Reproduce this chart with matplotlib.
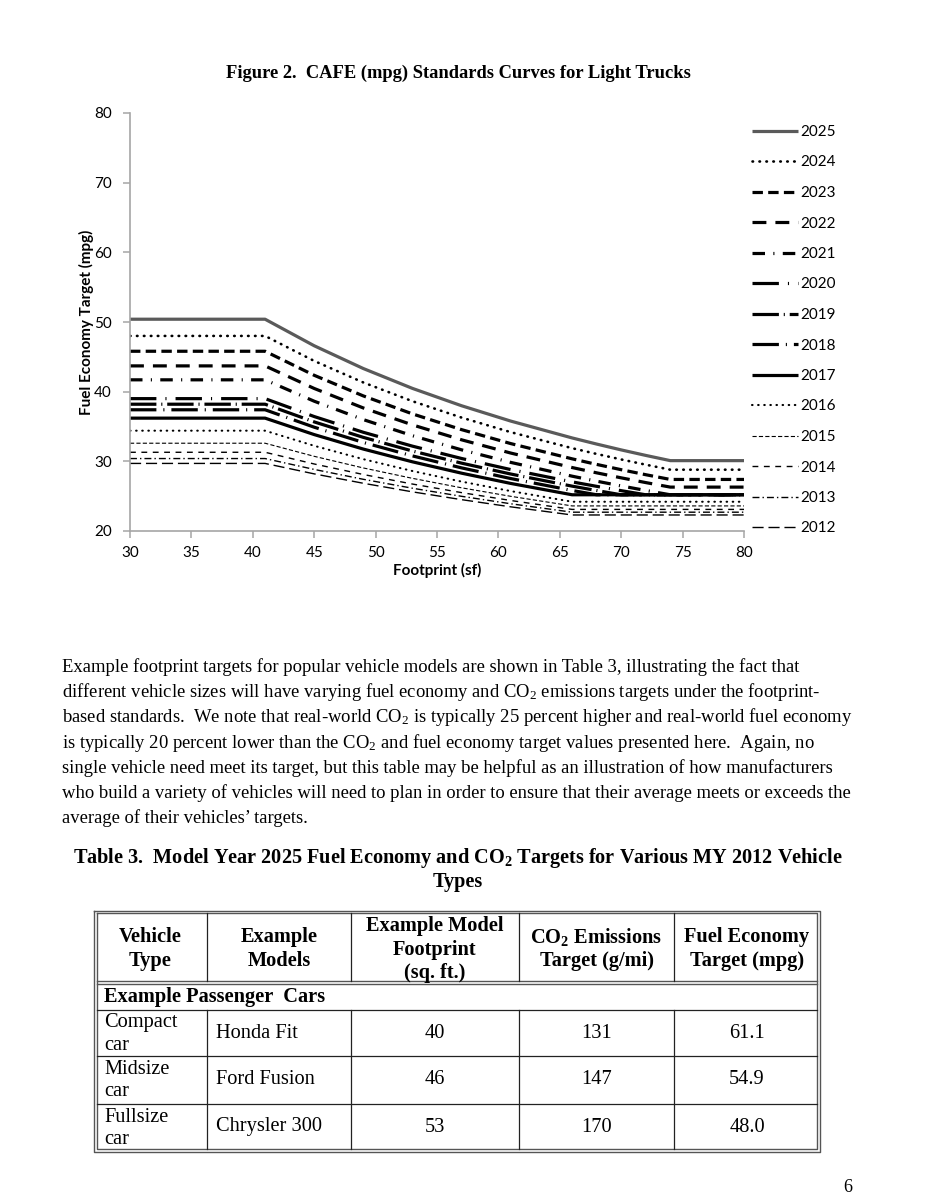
import matplotlib
matplotlib.use("Agg")
import matplotlib.pyplot as plt

plt.rcParams['lines.scale_dashes'] = False
plt.rcParams['mathtext.default'] = 'regular'

# ---------------- data ----------------
footprint = [30, 41, 45, 49, 53, 57, 61, 66, 68, 70, 72, 74, 80]
mpg_2025 = [50.4, 50.4, 46.59, 43.32, 40.47, 37.98, 35.78, 33.36, 32.48, 31.64, 30.85, 30.1, 30.1]
mpg_2024 = [48.0, 48.0, 44.41, 41.32, 38.63, 36.28, 34.19, 31.89, 31.06, 30.27, 29.52, 28.8, 28.8]
mpg_2023 = [45.8, 45.8, 42.35, 39.39, 36.81, 34.55, 32.55, 30.36, 29.56, 28.80, 28.08, 27.4, 27.4]
mpg_2022 = [43.7, 43.7, 40.46, 37.66, 35.23, 33.09, 31.19, 29.11, 28.35, 27.63, 26.95, 26.3, 26.3]
mpg_2021 = [41.7, 41.7, 38.63, 35.99, 33.68, 31.65, 29.85, 27.87, 27.15, 26.47, 25.82, 25.2, 25.2]
mpg_2020 = [39.0, 39.0, 36.43, 34.17, 32.18, 30.41, 28.82, 27.05, 26.41, 25.79, 25.2, 25.2, 25.2]
mpg_2019 = [38.2, 38.2, 35.66, 33.44, 31.48, 29.74, 28.18, 26.44, 25.81, 25.2, 25.2, 25.2, 25.2]
mpg_2018 = [37.4, 37.4, 34.90, 32.71, 30.78, 29.06, 27.53, 25.82, 25.2, 25.2, 25.2, 25.2, 25.2]
mpg_2017 = [36.2, 36.2, 33.84, 31.76, 29.93, 28.30, 26.83, 25.2, 25.2, 25.2, 25.2, 25.2, 25.2]
mpg_2016 = [34.4, 34.4, 32.23, 30.31, 28.61, 27.09, 25.73, 24.2, 24.2, 24.2, 24.2, 24.2, 24.2]
mpg_2015 = [32.6, 32.6, 30.72, 29.05, 27.56, 26.20, 24.98, 23.6, 23.6, 23.6, 23.6, 23.6, 23.6]
mpg_2014 = [31.3, 31.3, 29.62, 28.11, 26.74, 25.51, 24.38, 23.1, 23.1, 23.1, 23.1, 23.1, 23.1]
mpg_2013 = [30.4, 30.4, 28.84, 27.42, 26.14, 24.98, 23.91, 22.7, 22.7, 22.7, 22.7, 22.7, 22.7]
mpg_2012 = [29.7, 29.7, 28.20, 26.85, 25.62, 24.50, 23.47, 22.3, 22.3, 22.3, 22.3, 22.3, 22.3]

years = ["2025", "2024", "2023", "2022", "2021", "2020", "2019", "2018",
         "2017", "2016", "2015", "2014", "2013", "2012"]
series = [mpg_2025, mpg_2024, mpg_2023, mpg_2022, mpg_2021, mpg_2020, mpg_2019,
          mpg_2018, mpg_2017, mpg_2016, mpg_2015, mpg_2014, mpg_2013, mpg_2012]

x_ticks = [30, 35, 40, 45, 50, 55, 60, 65, 70, 75, 80]
y_ticks = [20, 30, 40, 50, 60, 70, 80]

vehicle_types = [["Compact", "car"], ["Midsize", "car"], ["Fullsize", "car"]]
example_models = ["Honda Fit", "Ford Fusion", "Chrysler 300"]
model_footprints = ["40", "46", "53"]
co2_targets = ["131", "147", "170"]
mpg_targets = ["61.1", "54.9", "48.0"]

# ---------------- styles ----------------
styles = [
    dict(color="#5a5a5a", lw=2.3, ls="-"),
    dict(color="black", lw=1.9, ls=(0, (0.4, 4.6)), dash_capstyle="round"),
    dict(color="black", lw=2.3, ls=(0, (7.5, 3.8))),
    dict(color="black", lw=2.3, ls=(0, (10, 6.5))),
    dict(color="black", lw=2.3, ls=(0, (9, 6, 0.8, 6))),
    dict(color="black", lw=2.3, ls=(0, (19, 6.5, 0.8, 6.5))),
    dict(color="black", lw=2.3, ls=(0, (19, 3.5, 0.8, 3.5))),
    dict(color="black", lw=2.3, ls=(0, (19, 5.0, 0.8, 5.0))),
    dict(color="black", lw=2.3, ls="-"),
    dict(color="black", lw=1.5, ls=(0, (0.4, 4.0)), dash_capstyle="round"),
    dict(color="black", lw=0.8, ls=(0, (3.0, 1.6))),
    dict(color="black", lw=1.0, ls=(0, (4.2, 4.0))),
    dict(color="black", lw=1.0, ls=(0, (5.0, 2.2, 1.0, 2.2))),
    dict(color="black", lw=1.0, ls=(0, (8.0, 3.5))),
]

W, H = 925, 1200
fig = plt.figure(figsize=(W / 100, H / 100), dpi=100)
fig.patch.set_facecolor("white")

page = fig.add_axes([0, 0, 1, 1])
page.set_xlim(0, W)
page.set_ylim(H, 0)
page.axis("off")

serif = "Liberation Serif"
sans = "Lato"

# Figure title
page.text(458, 73, "Figure 2.  CAFE (mpg) Standards Curves for Light Trucks",
          family=serif, weight="bold", fontsize=13.3, ha="center", va="center")

# ---------------- chart ----------------
ax = fig.add_axes([130 / W, 1 - 531 / H, 614 / W, 418 / H])
ax.set_facecolor("none")
handles = []
for yr, vals, st in zip(years, series, styles):
    ln, = ax.plot(footprint, vals, label=yr, solid_capstyle="butt", **st)
    handles.append(ln)

ax.set_xlim(30, 80)
ax.set_ylim(20, 80)
ax.set_xticks(x_ticks)
ax.set_yticks(y_ticks)
for s in ["top", "right"]:
    ax.spines[s].set_visible(False)
for s in ["left", "bottom"]:
    ax.spines[s].set_color("#a6a6a6")
    ax.spines[s].set_linewidth(1.2)
ax.tick_params(axis="both", colors="#a6a6a6", length=5, width=1.1,
               labelcolor="black", labelsize=11)
ax.tick_params(axis="x", pad=6)
ax.tick_params(axis="y", pad=8)
for lab in ax.get_xticklabels() + ax.get_yticklabels():
    lab.set_family(sans)
ax.set_xlabel("Footprint (sf)", family=sans, weight="bold", fontsize=11, labelpad=2)
ax.set_ylabel("Fuel Economy Target (mpg)", family=sans, weight="bold", fontsize=11, labelpad=0)

leg = fig.legend(handles=handles, loc="upper left",
                 bbox_to_anchor=(752 / W, 1 - 125 / H), frameon=False,
                 prop=dict(family=sans, size=11), handlelength=3.0,
                 handletextpad=0.15, labelspacing=1.08, borderaxespad=0,
                 borderpad=0)

# ---------------- paragraph ----------------
para = [
    "Example footprint targets for popular vehicle models are shown in Table 3, illustrating the fact that",
    "different vehicle sizes will have varying fuel economy and CO$_2$ emissions targets under the footprint-",
    "based standards.  We note that real-world CO$_2$ is typically 25 percent higher and real-world fuel economy",
    "is typically 20 percent lower than the CO$_2$ and fuel economy target values presented here.  Again, no",
    "single vehicle need meet its target, but this table may be helpful as an illustration of how manufacturers",
    "who build a variety of vehicles will need to plan in order to ensure that their average meets or exceeds the",
    "average of their vehicles\u2019 targets.",
]
for i, line in enumerate(para):
    page.text(62, 667 + i * 25.2, line, family=serif, fontsize=13.4, ha="left", va="center")

# ---------------- table ----------------
fs_tt = 14.6
page.text(458, 858, "Table 3.  Model Year 2025 Fuel Economy and CO$_2$ Targets for Various MY 2012 Vehicle",
          family=serif, weight="bold", fontsize=fs_tt, ha="center", va="center")
page.text(458, 882, "Types", family=serif, weight="bold", fontsize=fs_tt, ha="center", va="center")

L, R, T, B = 94, 820, 910.5, 1151.5
cols = [94, 207, 351, 519, 674, 820]
hdr_bot = 982.5
rows = [1009.5, 1056, 1103.5]
dbl = "#555555"
for off in (0, 2.6):
    page.plot([L + off, R - off, R - off, L + off, L + off],
              [T + off, T + off, B - off, B - off, T + off], color=dbl, lw=1.0)
for yy in (hdr_bot - 1.3, hdr_bot + 1.3):
    page.plot([L + 2.6, R - 2.6], [yy, yy], color=dbl, lw=1.0)
for yy in rows:
    page.plot([L + 2.6, R - 2.6], [yy, yy], color="#222222", lw=0.9)
for cx in cols[1:-1]:
    page.plot([cx, cx], [T + 2.6, hdr_bot - 1.3], color="#222222", lw=0.9)
    page.plot([cx, cx], [rows[0], B - 2.6], color="#222222", lw=0.9)

fs_t = 14.7
hdr = [
    (150.5, ["Vehicle", "Type"], [937, 961]),
    (279, ["Example", "Models"], [937, 961]),
    (435, ["Example Model", "Footprint", "(sq. ft.)"], [926, 949.5, 973]),
    (596.5, ["CO$_2$ Emissions", "Target (g/mi)"], [937, 961]),
    (747, ["Fuel Economy", "Target (mpg)"], [937, 961]),
]
for cx, lines, ys in hdr:
    for ln_, yy in zip(lines, ys):
        page.text(cx, yy, ln_, family=serif, weight="bold", fontsize=fs_t, ha="center", va="center")

page.text(104, 997, "Example Passenger  Cars", family=serif, weight="bold", fontsize=fs_t,
          ha="left", va="center")

row_mid = [1033, 1080, 1127]
for i in range(3):
    ym = row_mid[i]
    page.text(104, ym - 10, vehicle_types[i][0], family=serif, fontsize=fs_t, ha="left", va="center")
    page.text(104, ym + 12, vehicle_types[i][1], family=serif, fontsize=fs_t, ha="left", va="center")
    page.text(216, ym, example_models[i], family=serif, fontsize=fs_t, ha="left", va="center")
    page.text(435, ym, model_footprints[i], family=serif, fontsize=fs_t, ha="center", va="center")
    page.text(596.5, ym, co2_targets[i], family=serif, fontsize=fs_t, ha="center", va="center")
    page.text(747, ym, mpg_targets[i], family=serif, fontsize=fs_t, ha="center", va="center")

page.text(848, 1187, "6", family=serif, fontsize=13, ha="center", va="center")

fig.savefig("out.png", dpi=100, facecolor="white")
